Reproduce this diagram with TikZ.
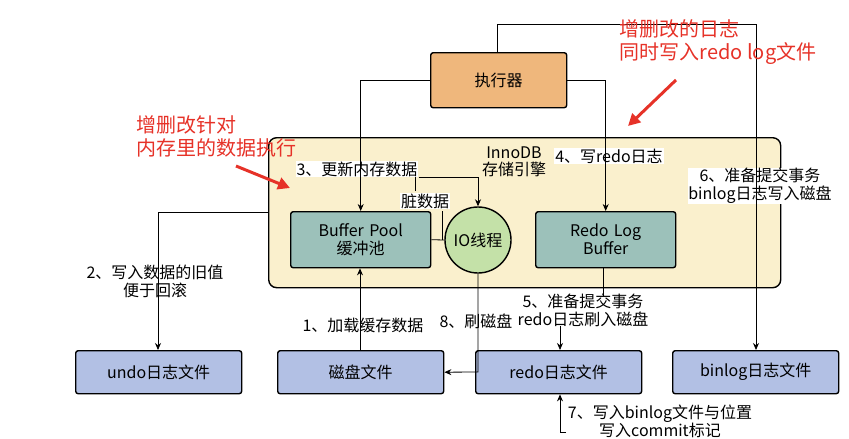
\documentclass[tikz,border=0pt]{standalone}
\usepackage{fontspec}
\setmainfont{Noto Sans CJK SC}
\usetikzlibrary{arrows.meta}
\begin{document}
\begin{tikzpicture}[x=1pt,y=-1pt,
  every node/.style={font=\fontsize{16}{18}\selectfont},
  box/.style={draw,line width=1.4pt,rounded corners=2.5pt,minimum height=43pt,minimum width=166pt,anchor=north west,inner sep=0pt},
  file/.style={box,fill={rgb,255:red,178;green,192;blue,228}},
  buf/.style={box,fill={rgb,255:red,156;green,193;blue,186},minimum width=140pt,minimum height=56pt,align=center,text width=130pt},
  con/.style={line width=0.8pt,-{Stealth[length=7pt,width=6pt]}},
  ln/.style={line width=0.8pt},
  lab/.style={fill=white,inner sep=1pt,align=center},
  red/.style={text={rgb,255:red,230;green,50;blue,40},font=\fontsize{20}{23}\selectfont,align=left},
  rarrow/.style={draw={rgb,255:red,230;green,50;blue,40},line width=3pt,-{Triangle[length=12pt,width=12pt]}}]
\useasboundingbox (0,0) rectangle (849,439);
\node[draw,line width=1.4pt,rounded corners=8pt,fill={rgb,255:red,250;green,240;blue,205},minimum width=512pt,minimum height=150pt,anchor=north west] (inno) at (268,137) {};
\node (innolab) at (514,162) [align=center,inner sep=0pt,font=\fontsize{16}{17}\selectfont] {InnoDB\\存储引擎};
\node[box,fill={rgb,255:red,239;green,183;blue,124},minimum width=136pt,minimum height=55pt] (exec) at (430,52) {执行器};
\node[buf] (bp) at (290,211) {Buffer Pool\\缓冲池};
\node[buf] (rlb) at (535,211) {Redo Log\\Buffer};
\node[draw,line width=1.4pt,circle,fill={rgb,255:red,196;green,225;blue,168},minimum size=66pt,inner sep=0pt] (io) at (478,240) {IO线程};
\node[file] (undo) at (75,350) {undo日志文件};
\node[file] (disk) at (277,350) {磁盘文件};
\node[file] (redo) at (475,350) {redo日志文件};
\node[file] (binlog) at (672,350) {binlog日志文件};
% labels
\node[lab] (l3) at (357,169) {3、更新内存数据};
\node[lab] (dirty) at (425,201) {脏数据};
\node[lab] (l4) at (609,156) {4、写redo日志};
\node[lab,inner sep=0pt] (l6) at (760,186) {6、准备提交事务\\binlog日志写入磁盘};
\node[lab,inner sep=0pt] (l2) at (155,281) {2、写入数据的旧值\\便于回滚};
\node[lab] (l1) at (363,325) {1、加载缓存数据};
\node[lab] (l8) at (476,321) {8、刷磁盘};
\node[lab,inner sep=0pt] (l5) at (583,310) {5、准备提交事务\\redo日志刷入磁盘};
\node[lab,inner sep=0pt] (l7) at (660,421) {7、写入binlog文件与位置\\写入commit标记};
\coordinate (c7) at (566,432);
% connectors
\draw[con] (exec.west) -| (bp.north);
\draw[con] (exec.east) -| (rlb.north);
\draw[con] (exec.north-|497,0) |- (756,24) -- (756,350);
\draw[ln] (bp.east) -- (io.west);
\draw[ln] (442,240) -- (442,211);
\draw[ln] (415,191) -- (415,177);
\draw[con] (l3.east|-415,177) -- (478,177) -- (io.north);
\draw[con] (io.south) -- (478,372) -- (disk.east);
\draw[con] (disk.north-|360,0) -- (bp.south-|360,0);
\draw[con] (inno.west|-0,212) -| (undo.north-|158,0);
\draw[ln] (rlb.south-|603,0) -- (603,296);
\draw[con] (560,326) -- (redo.north-|560,0);
\draw[con] (c7) -- (560,432) -- (redo.south-|560,0);
% red annotations
\node[red] (r1) at (718,42) {增删改的日志\\同时写入redo log文件};
\node[red] (r2) at (216,136) {增删改针对\\内存里的数据执行};
\draw[rarrow] (676,80) -- (628,126);
\draw[rarrow] (236,166) -- (290,188);
\end{tikzpicture}
\end{document}
